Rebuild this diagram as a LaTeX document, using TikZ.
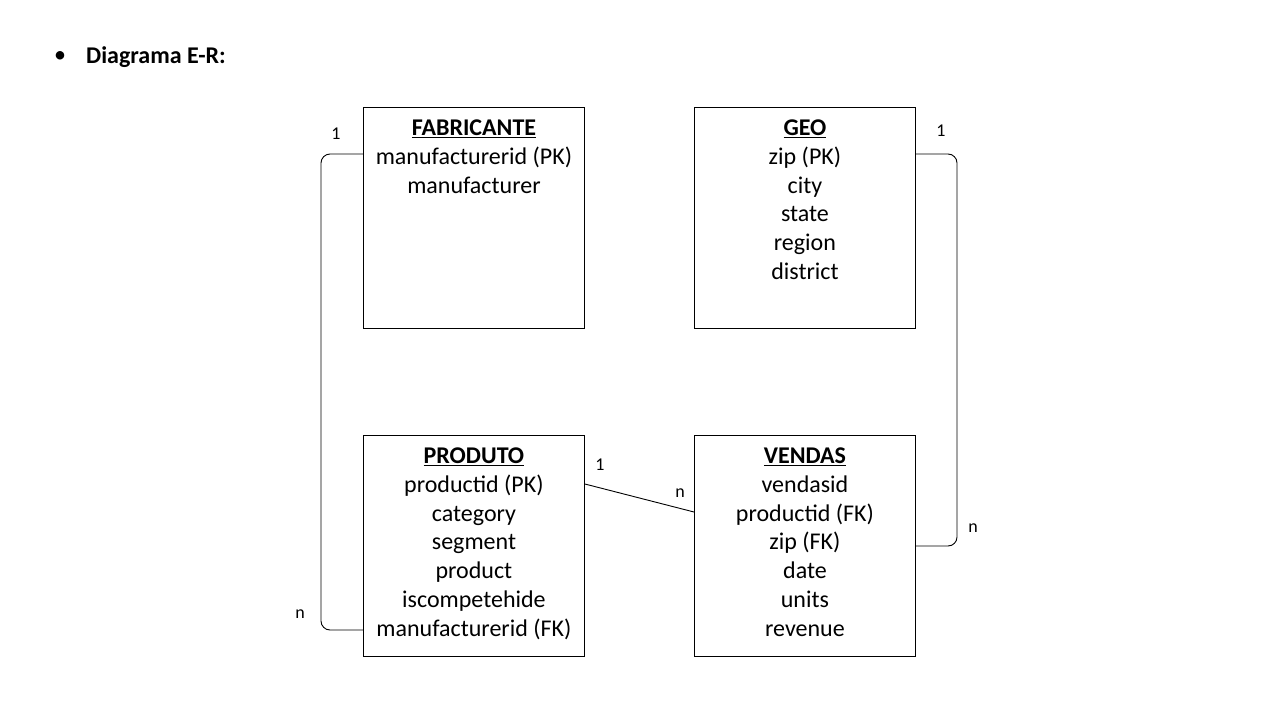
\documentclass[tikz,border=0pt]{standalone}
\usepackage{fontspec}
\setmainfont{Carlito}
\usetikzlibrary{calc}
\begin{document}
\begin{tikzpicture}[x=1pt,y=-1pt,
  entity/.style={draw=black,line width=0.9pt,minimum width=221pt,minimum height=221pt,anchor=north west,inner sep=0pt},
  etext/.style={anchor=north,inner sep=0pt,align=center,font=\fontsize{24}{28.8}\selectfont},
  conn/.style={draw=black,line width=0.9pt,rounded corners=9pt},
  card/.style={inner sep=0pt,font=\fontsize{18}{21}\selectfont}]
\useasboundingbox (0,0) rectangle (1280,720);
\node[inner sep=0pt,anchor=west,font=\fontsize{24}{28}\selectfont] (bul) at (54,57) {\textbullet};
\node[inner sep=0pt,anchor=west,font=\bfseries\fontsize{24}{28}\selectfont] (hdr) at (86,57) {Diagrama E-R:};
\node[entity] (fab) at (363,107) {};
\node[entity] (geo) at (694,107) {};
\node[entity] (pro) at (363,435) {};
\node[entity] (ven) at (694,435) {};
\node[etext] (fabt) at ($(fab.north)+(0,12.5)$) {\textbf{\underline{FABRICANTE}}\\manufacturerid (PK)\\manufacturer};
\node[etext] (geot) at ($(geo.north)+(0,12.5)$) {\textbf{\underline{GEO}}\\zip (PK)\\city\\state\\region\\district};
\node[etext] (prot) at ($(pro.north)+(0,12.5)$) {\textbf{\underline{PRODUTO}}\\productid (PK)\\category\\segment\\product\\iscompetehide\\manufacturerid (FK)};
\node[etext] (vent) at ($(ven.north)+(0,12.5)$) {\textbf{\underline{VENDAS}}\\vendasid\\productid (FK)\\zip (FK)\\date\\units\\revenue};
\coordinate (c1) at ($(fab.north west)+(0,47)$);
\coordinate (c2) at ($(pro.north west)+(0,195)$);
\coordinate (c3) at ($(geo.north east)+(0,47)$);
\coordinate (c4) at ($(ven.north east)+(0,111)$);
\coordinate (c5) at ($(pro.north east)+(0,49)$);
\coordinate (c6) at ($(ven.north west)+(0,77)$);
\draw[conn] (c1) -- (321,154) -- (321,630) -- (c2);
\draw[conn] (c3) -- (957,154) -- (957,546) -- (c4);
\draw[conn] (c5) -- (c6);
\node[card] (l1) at (336,134) {1};
\node[card] (l2) at (300,614) {n};
\node[card] (l3) at (941,131) {1};
\node[card] (l4) at (973,528) {n};
\node[card] (l5) at (600,465) {1};
\node[card] (l6) at (680,493) {n};
\end{tikzpicture}
\end{document}
